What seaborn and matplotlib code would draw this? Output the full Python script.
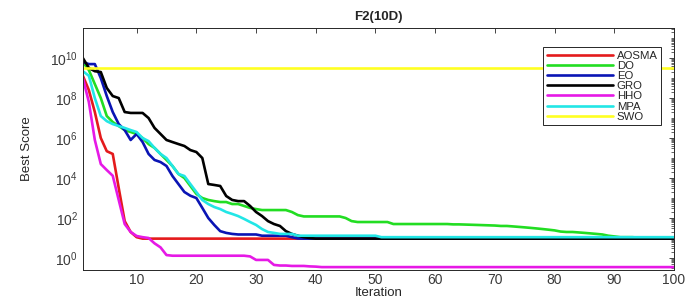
import numpy as np
import pandas as pd
import matplotlib
matplotlib.use("Agg")
import matplotlib.pyplot as plt
import matplotlib.ticker as mticker
import seaborn as sns

# best score per iteration, iterations 1..100
iterations = list(range(1, 101))

aosma = [1.3e9, 2.5e8, 2.0e7, 1.0e6, 2.2e5, 1.6e5, 3.2e3, 70, 20, 11] + [9.3] * 90

do = [6.3e9, 2.5e9, 5e8, 1e8, 1.26e7, 6.3e6, 4e6, 2.5e6, 2e6, 1.6e6,
      1e6, 5e5, 3.2e5, 1.6e5, 8e4, 4e4, 1.6e4, 1e4, 4e3, 1.6e3,
      1e3, 800, 700, 630, 630, 500, 500, 400, 320, 280,
      250, 250, 250, 250, 250, 200, 140, 120, 120, 120,
      120, 120, 120, 120, 100, 70, 63, 63, 63, 63,
      63, 63, 50, 50, 50, 50, 50, 50, 50, 50,
      50, 50, 48, 48, 47, 46, 45, 44, 43, 42,
      40, 40, 38, 36, 34, 32, 30, 28, 26, 24,
      21, 20, 20, 19, 18, 17, 16, 15, 13, 12,
      11, 11, 11, 10.5, 10.5, 10.5, 10.5, 10.5, 10.5, 10.5]

eo = [6.3e9, 5e9, 5e9, 1e9, 1.26e8, 2e7, 5e6, 2.5e6, 8e5, 1.6e6,
      6.3e5, 1.6e5, 8e4, 6.3e4, 4e4, 1.26e4, 5e3, 2e3, 1.3e3, 1e3,
      320, 100, 45, 22, 18, 16, 15, 15, 15, 15,
      13, 13, 13, 13, 13, 11, 9.5, 9.3, 9.3, 9.3] + [9.3] * 60

gro = [1e10, 3.2e9, 2.2e9, 2e9, 3.2e8, 1.26e8, 1e8, 2e7, 1.8e7, 1.8e7,
       1.8e7, 1e7, 3.2e6, 1.6e6, 8e5, 6.3e5, 5e5, 4e5, 2.5e5, 2e5,
       1e5, 5e3, 4.5e3, 4e3, 1.26e3, 800, 700, 700, 400, 200,
       125, 70, 50, 40, 22, 16, 13, 11, 10, 9.3] + [9.3] * 60

hho = [1e9, 6.3e7, 8e5, 5e4, 2.5e4, 1.3e4, 800, 50, 20, 12.6,
       11, 10, 5.4, 3.4, 1.4, 1.3, 1.3, 1.3, 1.3, 1.3,
       1.3, 1.3, 1.3, 1.3, 1.3, 1.3, 1.3, 1.3, 1.2, 0.8,
       0.8, 0.8, 0.45, 0.42, 0.42, 0.4, 0.4, 0.4, 0.38, 0.37] + [0.35] * 60

mpa = [2.2e9, 1.3e9, 1e8, 1.26e7, 7e6, 5e6, 4e6, 3.2e6, 2.5e6, 2e6,
       1e6, 7e5, 3.2e5, 1.6e5, 1e5, 4e4, 1.6e4, 1.26e4, 5e3, 2e3,
       800, 500, 355, 280, 200, 160, 125, 90, 63, 45,
       28, 20, 18, 16, 16, 16, 13, 13, 13, 13,
       13, 13, 13, 13, 13, 13, 13, 13, 13, 13] + [11] * 50

swo = [3.2e9] * 100

names = ["AOSMA", "DO", "EO", "GRO", "HHO", "MPA", "SWO"]
colors = ["#e41a1c", "#22dd22", "#0a14b4", "#000000", "#e619e6", "#22e6e6", "#ffff22"]

df = pd.DataFrame({
    "Iteration": iterations * len(names),
    "Best Score": aosma + do + eo + gro + hho + mpa + swo,
    "Algorithm": [n for n in names for _ in iterations],
})

sns.set_style("white")
plt.rcParams["font.family"] = ["Liberation Sans", "DejaVu Sans"]
plt.rcParams["mathtext.fontset"] = "custom"
plt.rcParams["mathtext.rm"] = "Liberation Sans"
plt.rcParams["mathtext.it"] = "Liberation Sans"

fig = plt.figure(figsize=(6.85, 3.02), dpi=100)
ax = fig.add_axes([0.121, 0.106, 0.863, 0.801])

sns.lineplot(data=df, x="Iteration", y="Best Score", hue="Algorithm",
             hue_order=names, palette=dict(zip(names, colors)),
             linewidth=1.9, ax=ax)

ax.set_yscale("log")
ax.set_xlim(1, 100)
ax.set_ylim(10 ** -0.6, 10 ** 11.5)
ax.set_xticks(range(10, 101, 10))
ax.yaxis.set_major_locator(mticker.FixedLocator([1, 1e2, 1e4, 1e6, 1e8, 1e10]))
ax.yaxis.set_minor_locator(mticker.LogLocator(base=10, subs=np.arange(1, 10), numticks=30))
ax.yaxis.set_minor_formatter(mticker.NullFormatter())
ax.tick_params(which="both", direction="in", top=True, right=True,
               colors="#262626", labelcolor="#3a3a3a", labelsize=10)
ax.tick_params(axis="x", pad=2)
ax.tick_params(which="major", length=3.5, width=0.6)
ax.tick_params(which="minor", length=2, width=0.5)
for s in ax.spines.values():
    s.set_color("#262626")
    s.set_linewidth(0.7)

ax.set_title("F2(10D)", fontsize=9.5, fontweight="bold", pad=6)
ax.set_xlabel("Iteration", fontsize=9.5, labelpad=0)
ax.set_ylabel("Best Score", fontsize=9.5, labelpad=12)

ax.legend(loc="upper right", bbox_to_anchor=(0.988, 0.945), fontsize=8.2,
          handlelength=5.8, labelspacing=0.02, handletextpad=0.35,
          borderpad=0.3, frameon=True, fancybox=False, edgecolor="#262626",
          framealpha=1)
ax.get_legend().get_frame().set_linewidth(0.7)

fig.savefig("out.png", dpi=100)
